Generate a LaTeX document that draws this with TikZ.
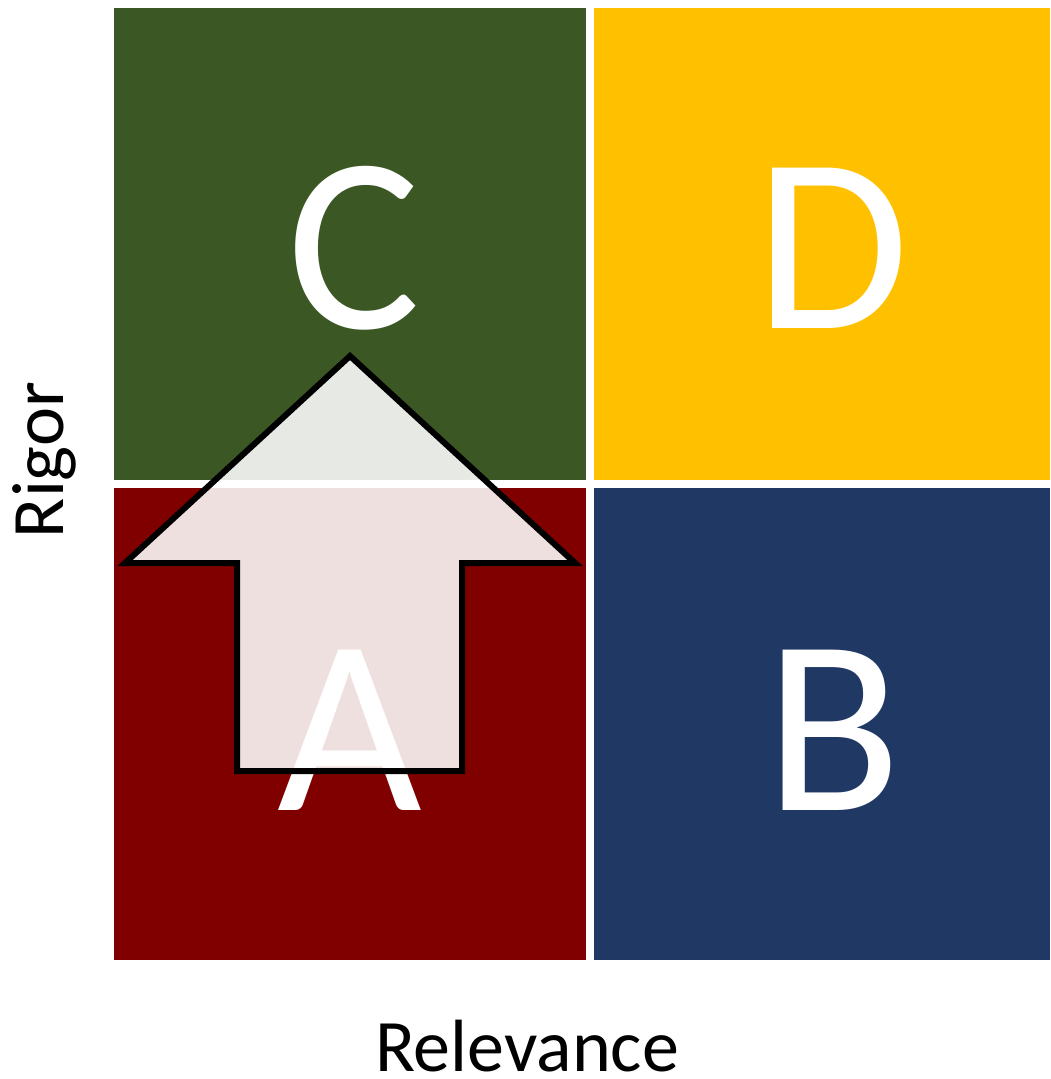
\documentclass[tikz,border=0pt]{standalone}
\usepackage{fontspec}
\setmainfont{Carlito}
\definecolor{cgreen}{HTML}{3B5724}
\definecolor{cyellow}{HTML}{FFC000}
\definecolor{cred}{HTML}{800000}
\definecolor{cblue}{HTML}{203864}
\tikzset{
  bigletter/.style={text=white, font=\fontsize{250}{250}\selectfont, anchor=base, inner sep=0pt},
  axislabel/.style={text=black, font=\fontsize{74}{74}\selectfont, inner sep=0pt, anchor=base, text depth=0pt},
  uparrow/.style={draw=black, line width=6pt, fill=white, fill opacity=0.88, line join=miter}
}
\begin{document}
\begin{tikzpicture}[x=1pt,y=-1pt]
\useasboundingbox (0,0) rectangle (1050,1079);
\fill[cgreen] (114,8) rectangle (586,480);
\fill[cyellow] (594,8) rectangle (1050,480);
\fill[cred] (114,488) rectangle (586,960);
\fill[cblue] (594,488) rectangle (1050,960);
\node[bigletter] (C) at (354,328) {C};
\node[bigletter] (D) at (832,328) {D};
\node[bigletter] (A) at (350,810) {A};
\node[bigletter] (B) at (833,810) {B};
\draw[uparrow] (350,356) -- (575,563) -- (462,563) -- (462,771) -- (237,771) -- (237,563) -- (125,563) -- cycle;
\node[axislabel, rotate=90] (rigor) at (63,460) {Rigor};
\node[axislabel] (relevance) at (527,1071) {Relevance};
\end{tikzpicture}
\end{document}
